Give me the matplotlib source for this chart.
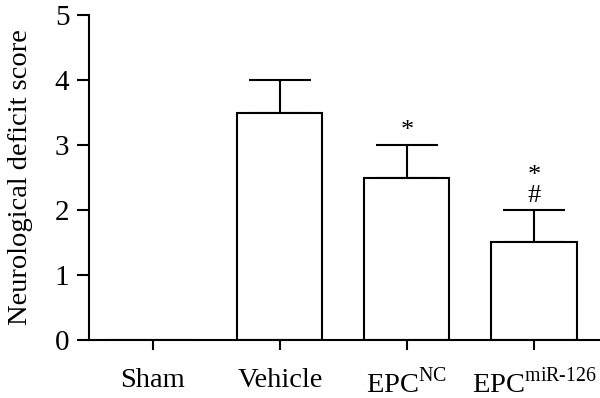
import numpy as np
import matplotlib
matplotlib.use("Agg")
import matplotlib.pyplot as plt

# Data
groups = ["Sham", "Vehicle", "EPC$^{\\mathrm{NC}}$", "EPC$^{\\mathrm{miR\\text{-}126}}$"]
scores = [0.0, 3.5, 2.5, 1.5]
errors = [0.0, 0.5, 0.5, 0.5]
marks = ["", "", "*", "*\n#"]

plt.rcParams["font.family"] = ["Liberation Serif", "DejaVu Serif"]
plt.rcParams["mathtext.fontset"] = "custom"
plt.rcParams["mathtext.rm"] = "Liberation Serif"

fig = plt.figure(figsize=(6.0, 3.98), dpi=100)
ax = fig.add_axes([0.148, 0.146, 0.852, 0.816])

x = np.arange(len(groups))
ax.bar(x, scores, width=0.67, color="white", edgecolor="black", linewidth=1.5, zorder=2)

has_err = np.array(errors) > 0
ax.errorbar(x[has_err], np.array(scores)[has_err],
            yerr=[np.zeros(has_err.sum()), np.array(errors)[has_err]],
            fmt="none", ecolor="black", elinewidth=1.5, capsize=22, capthick=1.5, zorder=1)

# significance marks
for i in range(len(groups)):
    if marks[i]:
        ax.text(x[i], scores[i] + errors[i] + 0.05, marks[i], ha="center", va="bottom",
                fontsize=19, linespacing=0.85)

ax.set_xlim(-0.505, 3.52)
ax.set_ylim(0, 5)
ax.set_yticks([0, 1, 2, 3, 4, 5])
ax.set_xticks(x)
ax.set_xticklabels(groups)
ax.set_ylabel("Neurological deficit score", fontsize=20.5, labelpad=16)

ax.spines["top"].set_visible(False)
ax.spines["right"].set_visible(False)
ax.spines["left"].set_linewidth(1.5)
ax.spines["bottom"].set_linewidth(1.5)
ax.tick_params(axis="y", direction="out", length=9, width=1.5, labelsize=21, pad=5)
ax.tick_params(axis="x", direction="out", length=7, width=1.5, labelsize=20.5, pad=13)

fig.savefig("out.png", dpi=100)
